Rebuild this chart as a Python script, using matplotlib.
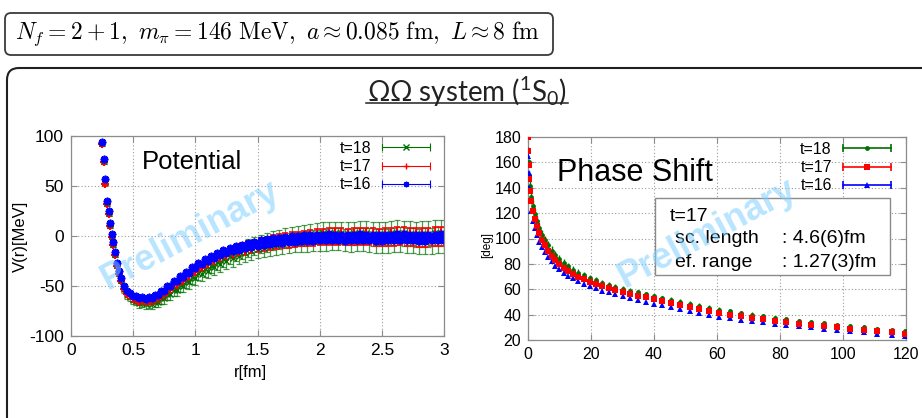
import matplotlib.pyplot as plt
from matplotlib.patches import FancyBboxPatch, Rectangle
from matplotlib.lines import Line2D
from matplotlib.legend_handler import HandlerBase
from matplotlib.transforms import IdentityTransform

# ---- potential V(r) ----
r_fm = [0.25, 0.265, 0.275, 0.29, 0.305, 0.315, 0.33, 0.34, 0.355, 0.37, 0.385, 0.40,
        0.425, 0.45, 0.475, 0.50, 0.525, 0.55, 0.575, 0.60,
        0.625, 0.65, 0.675, 0.70, 0.725, 0.75, 0.775, 0.80,
        0.825, 0.85, 0.875, 0.90, 0.925, 0.95, 0.975, 1.00,
        1.025, 1.05, 1.075, 1.10, 1.125, 1.15, 1.175, 1.20,
        1.225, 1.25, 1.275, 1.30, 1.325, 1.35, 1.375, 1.40,
        1.425, 1.45, 1.475, 1.50, 1.525, 1.55, 1.575, 1.60,
        1.625, 1.65, 1.675, 1.70, 1.725, 1.75, 1.775, 1.80,
        1.825, 1.85, 1.875, 1.90, 1.925, 1.95, 1.975, 2.00,
        2.025, 2.05, 2.075, 2.10, 2.125, 2.15, 2.175, 2.20,
        2.225, 2.25, 2.275, 2.30, 2.325, 2.35, 2.375, 2.40,
        2.425, 2.45, 2.475, 2.50, 2.525, 2.55, 2.575, 2.60,
        2.625, 2.65, 2.675, 2.70, 2.725, 2.75, 2.775, 2.80,
        2.825, 2.85, 2.875, 2.90, 2.925, 2.95, 2.975, 3.00]

V_t16 = [94, 77, 57, 35, 25, 13, 2, -6, -16, -27, -35, -42,
         -50, -55, -57, -60.5, -60.5, -62.5, -61.5, -63,
         -61.3, -62.2, -59.3, -59.5, -55.2, -55, -50.2, -50.2,
         -45, -45.3, -40, -40.8, -35.7, -36.7, -31.5, -32.5,
         -27.3, -28.4, -23.4, -25, -20, -21.9, -17.1, -19.3,
         -14.3, -17.1, -12.3, -15.3, -10.4, -13.6, -8.7, -12.1,
         -7.2, -10.9, -5.7, -9.6, -4.5, -8.7, -3.4, -7.8,
         -2.5, -7.2, -1.8, -6.6, -1.2, -6.1, -0.5, -5.6,
         -0.1, -5.2, 0.5, -4.8, 0.8, -4.7, 1.0, -4.5,
         1.2, -4.3, 1.5, -4.0, 1.3, -4.4, 1.0, -4.6,
         1.2, -4.3, 1.4, -4.1, 1.6, -4.0, 1.3, -4.5,
         0.9, -4.8, 0.8, -4.6, 1.1, -4.3, 1.4, -4.0,
         1.7, -3.9, 1.5, -4.2, 1.2, -4.5, 1.0, -4.7,
         0.9, -4.6, 1.1, -4.4, 1.3, -4.1, 1.5, -3.9]
dV_t16 = [1.5, 1.5, 1.5, 1.5, 1.5, 1.5, 1.5, 1.5, 1.5, 1.5, 1.5, 1.5,
          1.5, 1.5, 1.5, 1.5, 1.5, 1.5, 1.5, 1.5,
          1.5, 1.5, 1.5, 1.5, 1.5, 1.5, 1.6, 1.6,
          1.6, 1.6, 1.6, 1.6, 1.7, 1.7, 1.7, 1.7,
          1.8, 1.8, 1.8, 1.8, 1.8, 1.8, 1.9, 1.9,
          1.9, 1.9, 2.0, 2.0, 2.0, 2.0, 2.0, 2.0,
          2.1, 2.1, 2.1, 2.1, 2.2, 2.2, 2.2, 2.2,
          2.2, 2.3, 2.3, 2.3, 2.3, 2.3, 2.4, 2.4,
          2.4, 2.4, 2.4, 2.5, 2.5, 2.5, 2.5, 2.5,
          2.5, 2.6, 2.6, 2.6, 2.6, 2.6, 2.6, 2.7,
          2.7, 2.7, 2.7, 2.7, 2.7, 2.8, 2.8, 2.8,
          2.8, 2.8, 2.8, 2.9, 2.9, 2.9, 2.9, 2.9,
          2.9, 3.0, 3.0, 3.0, 3.0, 3.0, 3.0, 3.1,
          3.1, 3.1, 3.1, 3.1, 3.2, 3.2, 3.2, 3.2]

V_t17 = [92, 74, 52, 32, 22, 10, -1, -9, -19, -30, -38, -45,
         -53, -58, -60.5, -63.5, -64, -66, -65.2, -66.5,
         -65, -65.8, -63, -63, -59, -59, -54.5, -54.5,
         -49.5, -49.3, -44.3, -44.8, -39.7, -40.5, -35.2, -36.3,
         -31, -32, -27, -28.5, -23.4, -25.3, -20.3, -22.4,
         -17.2, -20.3, -15, -18.3, -13, -16.4, -11, -14.8,
         -9.2, -13.3, -7.6, -12, -6.2, -10.8, -5, -9.8,
         -3.8, -8.8, -2.8, -8, -1.8, -7.2, -1, -6.5,
         -0.3, -5.8, 0.4, -5.2, 1.0, -4.7, 1.5, -4.3,
         2.0, -4.0, 2.4, -3.6, 2.6, -3.4, 2.3, -3.8,
         2.0, -4.0, 2.2, -3.5, 2.8, -3.2, 2.5, -3.6,
         2.0, -4.2, 1.6, -4.5, 1.8, -4.0, 2.3, -3.6,
         2.7, -3.3, 2.4, -3.7, 2.0, -4.2, 1.7, -4.6,
         1.5, -4.4, 1.8, -4.0, 2.2, -3.6, 2.6, -3.3]
dV_t17 = [2, 2, 2, 2, 2, 2, 2, 2, 2, 2, 2, 2,
          2.5, 2.5, 2.5, 2.5, 2.5, 2.5, 2.5, 2.5,
          2.5, 2.5, 2.5, 2.8, 2.8, 2.8, 2.8, 3.0,
          3.0, 3.0, 3.0, 3.0, 3.2, 3.2, 3.2, 3.2,
          3.4, 3.4, 3.4, 3.4, 3.5, 3.5, 3.5, 3.6,
          3.6, 3.6, 3.7, 3.7, 3.8, 3.8, 3.9, 3.9,
          4.0, 4.0, 4.0, 4.1, 4.1, 4.2, 4.2, 4.3,
          4.3, 4.4, 4.4, 4.5, 4.5, 4.5, 4.6, 4.6,
          4.7, 4.7, 4.8, 4.8, 4.9, 4.9, 5.0, 5.0,
          5.0, 5.1, 5.1, 5.2, 5.2, 5.3, 5.3, 5.4,
          5.4, 5.4, 5.5, 5.5, 5.5, 5.6, 5.6, 5.7,
          5.7, 5.7, 5.8, 5.8, 5.8, 5.9, 5.9, 6.0,
          6.0, 6.0, 6.1, 6.1, 6.2, 6.2, 6.2, 6.3,
          6.3, 6.3, 6.4, 6.4, 6.5, 6.5, 6.5, 6.5]

V_t18 = [93, 75, 54, 33, 23, 11, 0, -8, -18, -29, -37, -44,
         -53, -59, -61.5, -64.5, -65.5, -67.5, -67, -68.5,
         -67.5, -68, -66, -66, -62.5, -62.5, -58.5, -58.5,
         -54, -54, -49.5, -50, -45.5, -46, -41.5, -42.5,
         -37.5, -38.5, -33.5, -35, -30, -31.5, -26.5, -28.5,
         -23, -25.5, -20, -22.5, -17, -20, -14.5, -17.5,
         -12, -15.5, -10, -13.5, -8, -12, -6.5, -10.5,
         -5, -9.5, -3.5, -8.5, -2.5, -7.5, -1.5, -6.5,
         -0.5, -6, 0.5, -5.5, 1.5, -5, 2, -4.5,
         2.5, -4, 3, -3.5, 3, -3.5, 2.5, -4,
         2, -4.5, 2.5, -4, 3, -3.5, 3, -4,
         2, -5, 1.5, -5.5, 2, -5, 2.5, -4.5,
         3, -4, 2.5, -4.5, 2, -5, 1.5, -5.5,
         1.5, -5.5, 2, -5, 2.5, -4.5, 3, -4]
dV_t18 = [3, 3, 3, 3, 3, 3, 3, 3, 3, 3, 3.5, 3.5,
          4, 4, 4, 4, 4, 4.5, 4.5, 4.5,
          5, 5, 5, 5.5, 5.5, 5.5, 6, 6,
          6, 6.5, 6.5, 6.5, 7, 7, 7, 7,
          7, 7, 7.5, 7.5, 7.5, 7.5, 8, 8,
          8, 8, 8, 8.5, 8.5, 8.5, 8.5, 8.5,
          9, 9, 9, 9, 9, 9, 9.5, 9.5,
          9.5, 9.5, 9.5, 10, 10, 10, 10, 10,
          10, 10, 10.5, 10.5, 10.5, 10.5, 10.5, 10.5,
          11, 11, 11, 11, 11, 11, 11, 11,
          11.5, 11.5, 11.5, 11.5, 11.5, 11.5, 11.5, 12,
          12, 12, 12, 12, 12, 12, 12, 12,
          12.5, 12.5, 12.5, 12.5, 12.5, 12.5, 12.5, 12.5,
          13, 13, 13, 13, 13, 13, 13, 13]

# ---- phase shift vs E_cm ----
E_mev = [0.0, 0.044, 0.18, 0.40, 0.71, 1.11, 1.60, 2.17, 2.84, 3.59, 4.44, 5.37,
         6.39, 7.50, 8.70, 9.99, 11.36, 12.83, 14.38, 16.02, 17.75, 19.57, 21.48,
         23.48, 25.56, 27.74, 30.0, 32.35, 34.79, 37.32, 39.94, 42.65, 45.44, 48.33,
         51.30, 54.37, 57.52, 60.76, 64.09, 67.51, 71.01, 74.60, 78.29, 82.06, 85.92,
         89.87, 93.91, 98.04, 102.26, 106.56, 110.95, 115.43, 119.8]

delta_t18 = [180, 170, 160, 150, 141, 133, 126, 119.5, 113.5, 108, 103, 98.5,
             94.5, 90.5, 87, 84, 81, 78, 75.5, 73, 71, 69, 67,
             65.2, 63.5, 62, 60.5, 59, 57.5, 56, 54.5, 53, 51.5, 50,
             48.5, 47, 45.5, 44, 42.5, 41.2, 40, 38.8, 37.6, 36.4, 35.3,
             34.2, 33.1, 32, 31, 30, 29, 28, 27]
ddelta_t18 = [0.5, 2, 3, 3.5, 4, 4, 4, 4, 4, 4, 4, 3.8,
              3.6, 3.4, 3.2, 3, 3, 2.8, 2.8, 2.6, 2.6, 2.5, 2.5,
              2.4, 2.4, 2.3, 2.3, 2.2, 2.2, 2.1, 2.1, 2, 2, 2,
              2, 1.9, 1.9, 1.9, 1.8, 1.8, 1.8, 1.7, 1.7, 1.7, 1.6,
              1.6, 1.6, 1.5, 1.5, 1.5, 1.5, 1.5, 1.5]

delta_t17 = [180, 169, 158, 147, 137.5, 129.5, 122, 115.5, 109.5, 104, 99, 94.5,
             90.5, 86.5, 83, 80, 77, 74.5, 72, 70, 68, 66, 64.2,
             62.5, 61, 59.5, 58, 56.5, 55, 53.5, 52, 50.5, 49, 47.5,
             46, 44.5, 43, 41.5, 40, 38.8, 37.6, 36.4, 35.2, 34.1, 33,
             32, 31, 30, 29, 28, 27, 26, 25]
ddelta_t17 = [0.5, 1.5, 2, 2, 2, 2, 2, 2, 2, 2, 2, 2,
              2, 1.8, 1.8, 1.8, 1.6, 1.6, 1.6, 1.5, 1.5, 1.5, 1.4,
              1.4, 1.4, 1.3, 1.3, 1.3, 1.2, 1.2, 1.2, 1.2, 1.1, 1.1,
              1.1, 1.1, 1, 1, 1, 1, 1, 1, 1, 1, 1,
              1, 1, 1, 1, 1, 1, 1, 1]

delta_t16 = [180, 165, 152, 140, 129.5, 121.5, 114, 108, 102.5, 97.5, 93, 89,
             85.5, 82, 78.5, 76, 73, 70.5, 68.5, 66.5, 64.5, 62.5, 60.7,
             59, 57.5, 56, 54.5, 53, 51.5, 50, 48.5, 47.5, 46, 44.5,
             43, 41.5, 40, 38.5, 37, 36, 35, 34, 33, 32, 31,
             30, 29, 28, 27, 26, 25, 24, 23]
ddelta_t16 = [0.5, 1, 1.2, 1.2, 1.2, 1.2, 1.2, 1.2, 1.2, 1.2, 1.2, 1.1,
              1.1, 1.1, 1, 1, 1, 1, 1, 1, 0.9, 0.9, 0.9,
              0.9, 0.9, 0.8, 0.8, 0.8, 0.8, 0.8, 0.8, 0.8, 0.8, 0.8,
              0.8, 0.8, 0.8, 0.8, 0.8, 0.8, 0.8, 0.8, 0.8, 0.8, 0.8,
              0.8, 0.8, 0.8, 0.8, 0.8, 0.8, 0.8, 0.8]

series_labels = ['t=18', 't=17', 't=16']
r_ticks = [0, 0.5, 1, 1.5, 2, 2.5, 3]
r_tick_labels = ['0', '0.5', '1', '1.5', '2', '2.5', '3']
V_ticks = [-100, -50, 0, 50, 100]
E_ticks = [0, 20, 40, 60, 80, 100, 120]
delta_ticks = [20, 40, 60, 80, 100, 120, 140, 160, 180]

GREEN = '#007000'
RED = '#ff0000'
BLUE = '#0000ff'
FRAME = '#8c8c8c'
WATERMARK = '#7fcfff'

plt.rcParams['font.family'] = 'Liberation Sans'
plt.rcParams['axes.unicode_minus'] = False
plt.rcParams['mathtext.fontset'] = 'custom'
plt.rcParams['mathtext.rm'] = 'Lato'
plt.rcParams['mathtext.it'] = 'Lato:italic'

W, H = 922, 418
fig = plt.figure(figsize=(W / 100, H / 100), dpi=100)


def px_rect(x0, y0, x1, y1):
    # pixel box (top-left origin) -> figure fraction rect
    return [x0 / W, 1 - y1 / H, (x1 - x0) / W, (y1 - y0) / H]


class BarKeyHandler(HandlerBase):
    # legend key: horizontal bar with end caps and the marker in the middle
    def create_artists(self, legend, orig_handle, xdescent, ydescent,
                       width, height, fontsize, trans):
        y = height / 2 - ydescent
        x0 = -xdescent
        x1 = x0 + width
        c = orig_handle.get_color()
        lw = orig_handle.get_linewidth()
        bar = Line2D([x0, x1], [y, y], color=c, lw=lw)
        caps = Line2D([x0, x1], [y, y], ls='none', marker='|', ms=6, mew=lw, color=c)
        mark = Line2D([(x0 + x1) / 2], [y], ls='none', color=c,
                      marker=orig_handle.get_marker(),
                      ms=orig_handle.get_markersize(),
                      mew=orig_handle.get_markeredgewidth())
        for a in (bar, caps, mark):
            a.set_transform(trans)
        return [bar, caps, mark]


def style_axes(ax, labelsize):
    for s in ax.spines.values():
        s.set_color(FRAME)
        s.set_linewidth(0.9)
    ax.tick_params(direction='in', length=4, width=0.8, color=FRAME,
                   top=True, right=True, labelsize=labelsize, pad=5)
    ax.grid(True, ls=(0, (1, 2)), color='#9a9a9a', lw=0.8)
    ax.set_axisbelow(True)


# ---------------- slide frames ----------------
header = FancyBboxPatch((5, H - 55), 548, 42, boxstyle='round,pad=0,rounding_size=6',
                        transform=IdentityTransform(), fc='white', ec='#3a3a3a', lw=1.3)
fig.add_artist(header)
panel = FancyBboxPatch((7, -30), 960, H - 68 + 30, boxstyle='round,pad=0,rounding_size=12',
                       transform=IdentityTransform(), fc='none', ec='#202020', lw=1.5)
fig.add_artist(panel)

fig.text(278 / W, 1 - 34 / H,
         r'$N_f=2+1,\ m_\pi=146\ \mathrm{MeV},\ a\approx0.085\ \mathrm{fm},\ L\approx8\ \mathrm{fm}$',
         math_fontfamily='cm', fontsize=17, ha='center', va='center')

fig.text(467 / W, 1 - 92 / H, r'$\Omega\Omega$ system ($^{1}$S$_{0}$)',
         family='Lato', fontsize=20, ha='center', va='center', color='#222222')
fig.add_artist(Line2D([366, 568], [H - 103, H - 103], transform=IdentityTransform(),
                      color='#222222', lw=1.1))

# ---------------- potential panel ----------------
ax1 = fig.add_axes(px_rect(71, 136, 444, 336))
style_axes(ax1, 12.5)

pot_styles = [
    (V_t18, dV_t18, GREEN, 'x', 4.5, 1.0, 0.9, 0.7),
    (V_t17, dV_t17, RED, '+', 6.0, 1.5, 1.2, 1.0),
    (V_t16, dV_t16, BLUE, (8, 2, 0), 5.5, 1.3, 0.9, 0.9),
]
handles1 = []
for vals, errs, col, mk, ms, mw, elw, a in pot_styles:
    ax1.errorbar(r_fm, vals, yerr=errs, fmt='none', ecolor=col, elinewidth=elw,
                 capsize=2.2, capthick=elw, alpha=a, zorder=2)
    ax1.plot(r_fm, vals, ls='none', marker=mk, ms=ms, mew=mw, color=col, zorder=2.1)
    handles1.append(Line2D([], [], color=col, marker=mk, ms=4, mew=1.0, lw=0.8, alpha=a))

ax1.set_xlim(0, 3)
ax1.set_ylim(-100, 100)
ax1.set_xticks(r_ticks)
ax1.set_xticklabels(r_tick_labels)
ax1.set_yticks(V_ticks)
ax1.legend(handles1, series_labels, handler_map={Line2D: BarKeyHandler()},
           loc='upper right', bbox_to_anchor=(0.963, 0.975), frameon=False,
           markerfirst=False, handlelength=3.0, handletextpad=0.7,
           labelspacing=0.2, fontsize=11.5, borderpad=0, borderaxespad=0)
ax1.text(0.19, 0.87, 'Potential', transform=ax1.transAxes, fontsize=18.5,
         ha='left', va='center')
ax1.text(0.32, 0.505, 'Preliminary', transform=ax1.transAxes, rotation=28,
         fontsize=26, fontweight='bold', color=WATERMARK, alpha=0.55,
         ha='center', va='center', zorder=10)
fig.text(20 / W, 1 - 236 / H, 'V(r)[MeV]', rotation=90, fontsize=12,
         ha='center', va='center')
fig.text(250 / W, 1 - 372 / H, 'r[fm]', fontsize=12, ha='center', va='center')

# ---------------- phase shift panel ----------------
ax2 = fig.add_axes(px_rect(528, 137, 906, 340))
style_axes(ax2, 11.5)

phase_styles = [
    (delta_t18, ddelta_t18, GREEN, 'o', 3.5, 3),
    (delta_t16, ddelta_t16, BLUE, '^', 4.5, 4),
    (delta_t17, ddelta_t17, RED, 's', 4.5, 5),
]
handles2 = {}
for vals, errs, col, mk, ms, z in phase_styles:
    ax2.errorbar(E_mev, vals, yerr=errs, fmt=mk, color=col, ms=ms, mew=0,
                 ecolor=col, elinewidth=1.0, capsize=2, capthick=1.0, zorder=z)
    handles2[col] = Line2D([], [], color=col, marker=mk, ms=ms, mew=0, lw=1.2)

ax2.set_xlim(0, 120)
ax2.set_ylim(20, 180)
ax2.set_xticks(E_ticks)
ax2.set_yticks(delta_ticks)
ax2.legend([handles2[GREEN], handles2[RED], handles2[BLUE]], series_labels,
           handler_map={Line2D: BarKeyHandler()},
           loc='upper right', bbox_to_anchor=(0.960, 0.975), frameon=False,
           markerfirst=False, handlelength=3.0, handletextpad=0.7,
           labelspacing=0.2, fontsize=11.5, borderpad=0, borderaxespad=0)
ax2.text(0.076, 0.823, 'Phase Shift', transform=ax2.transAxes, fontsize=22,
         ha='left', va='center')

ax2.add_patch(Rectangle((0.336, 0.320), 0.622, 0.380, transform=ax2.transAxes,
                        fc='white', ec='#8a8a8a', lw=1.0, zorder=6))
ax2.text(0.376, 0.606, 't=17', transform=ax2.transAxes, fontsize=14,
         va='center', zorder=7)
ax2.text(0.389, 0.502, 'sc. length', transform=ax2.transAxes, fontsize=14,
         va='center', zorder=7)
ax2.text(0.672, 0.502, ': 4.6(6)fm', transform=ax2.transAxes, fontsize=14,
         va='center', zorder=7)
ax2.text(0.389, 0.384, 'ef. range', transform=ax2.transAxes, fontsize=14,
         va='center', zorder=7)
ax2.text(0.672, 0.384, ': 1.27(3)fm', transform=ax2.transAxes, fontsize=14,
         va='center', zorder=7)
ax2.text(0.474, 0.527, 'Preliminary', transform=ax2.transAxes, rotation=28,
         fontsize=26, fontweight='bold', color=WATERMARK, alpha=0.55,
         ha='center', va='center', zorder=10)
fig.text(487 / W, 1 - 245 / H, '[deg]', rotation=90, fontsize=8.5,
         ha='center', va='center')

fig.savefig('out.png', dpi=100)
